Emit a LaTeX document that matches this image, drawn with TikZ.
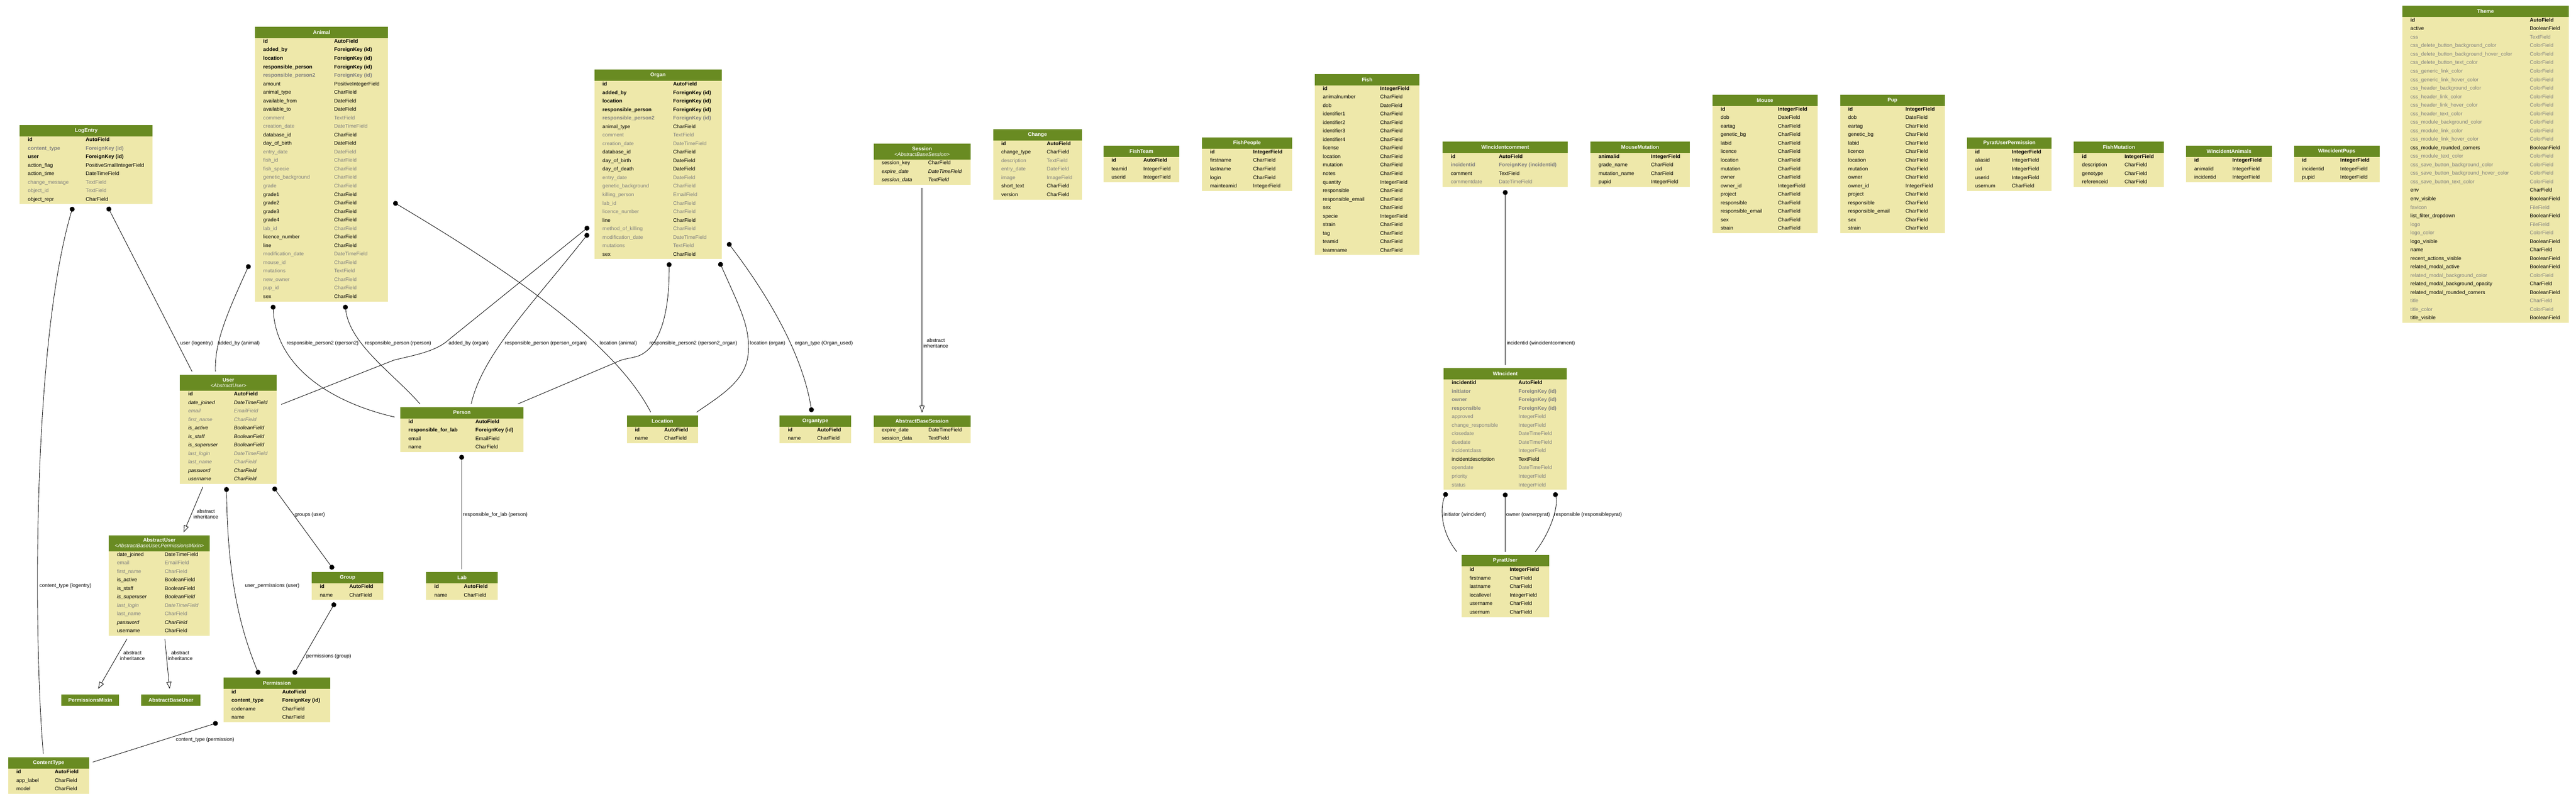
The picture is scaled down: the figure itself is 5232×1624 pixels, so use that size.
\documentclass[tikz,border=0pt]{standalone}
\usepackage{fontspec}
\setmainfont{Liberation Sans}
\usetikzlibrary{calc,arrows.meta}

\definecolor{hdrgreen}{HTML}{698B22}
\definecolor{bodyyellow}{HTML}{EEE8AA}
\definecolor{fieldgrey}{HTML}{7F7F7F}

\newcommand{\fieldfont}{\fontsize{10.5}{11.6}\selectfont}
\newcommand{\labelfont}{\fontsize{10.3}{11.6}\selectfont}
\pgfdeclarelayer{bodylayer}
\pgfsetlayers{bodylayer,main}

\tikzset{
  tblhead/.style={fill=hdrgreen, text=white, font=\fieldfont\bfseries, align=center, inner sep=0pt},
  tblbody/.style={fill=bodyyellow, inner sep=0pt},
  fieldtext/.style={anchor=base west, inner sep=0pt},
  fb/.style={font=\fieldfont\bfseries},
  fn/.style={font=\fieldfont},
  fg/.style={font=\fieldfont, text=fieldgrey},
  fgb/.style={font=\fieldfont\bfseries, text=fieldgrey},
  fi/.style={font=\fieldfont\itshape},
  fgi/.style={font=\fieldfont\itshape, text=fieldgrey},
  edgelabel/.style={anchor=base west, inner sep=0pt, font=\labelfont},
  inhlabel/.style={align=center, inner sep=0pt, font=\labelfont},
  fk/.style={line width=0.9pt, {Circle[length=10pt,width=10pt]}-},
  mm/.style={line width=0.9pt, {Circle[length=10pt,width=10pt]}-{Circle[length=10pt,width=10pt]}},
  inherit/.style={line width=0.9pt, -{Triangle[open,length=14pt,width=10pt]}},
}

% model table: name, left, top, width, type column, header height, title, fields
\newcommand{\modeltable}[8]{%
  \node[tblhead, minimum width=#4, minimum height=#6, anchor=north west] (#1-head) at (#2,#3) {#7};
  \foreach \fldname/\fldtype/\fldstyle [count=\i] in {#8}{%
    \node[fieldtext,\fldstyle] at ({#2+16.5},{#3+#6+10.3+17.3*(\i-1)}) {\fldname};
    \node[fieldtext,\fldstyle] at ({#2+#5},{#3+#6+10.3+17.3*(\i-1)}) {\fldtype};
    \xdef\lastrow{\i}
  }
  \begin{pgfonlayer}{bodylayer}
    \node[tblbody, minimum width=#4, minimum height={#6+17.3*\lastrow-0.8}, anchor=north west] (#1) at (#2,#3) {};
  \end{pgfonlayer}
}

\begin{document}
\catcode`\_=12
\begin{tikzpicture}[x=1pt,y=-1pt]
    \useasboundingbox (0,0) rectangle (5232,1624);

    % top row
    \modeltable{logentry}{40}{254}{270}{134}{23}{LogEntry}{id/AutoField/fb, content_type/ForeignKey (id)/fgb, user/ForeignKey (id)/fb, action_flag/PositiveSmallIntegerField/fn, action_time/DateTimeField/fn, change_message/TextField/fg, object_id/TextField/fg, object_repr/CharField/fn}
    \modeltable{animal}{518}{54}{270}{160.5}{23}{Animal}{id/AutoField/fb, added_by/ForeignKey (id)/fb, location/ForeignKey (id)/fb, responsible_person/ForeignKey (id)/fb, responsible_person2/ForeignKey (id)/fgb, amount/PositiveIntegerField/fn, animal_type/CharField/fn, available_from/DateField/fn, available_to/DateField/fn, comment/TextField/fg, creation_date/DateTimeField/fg, database_id/CharField/fn, day_of_birth/DateField/fn, entry_date/DateField/fg, fish_id/CharField/fg, fish_specie/CharField/fg, genetic_background/CharField/fg, grade/CharField/fg, grade1/CharField/fn, grade2/CharField/fn, grade3/CharField/fn, grade4/CharField/fn, lab_id/CharField/fg, licence_number/CharField/fn, line/CharField/fn, modification_date/DateTimeField/fg, mouse_id/CharField/fg, mutations/TextField/fg, new_owner/CharField/fg, pup_id/CharField/fg, sex/CharField/fn}
    \modeltable{organ}{1207}{141}{258.5}{160}{23}{Organ}{id/AutoField/fb, added_by/ForeignKey (id)/fb, location/ForeignKey (id)/fb, responsible_person/ForeignKey (id)/fb, responsible_person2/ForeignKey (id)/fgb, animal_type/CharField/fn, comment/TextField/fg, creation_date/DateTimeField/fg, database_id/CharField/fn, day_of_birth/DateField/fn, day_of_death/DateField/fn, entry_date/DateField/fg, genetic_background/CharField/fg, killing_person/EmailField/fg, lab_id/CharField/fg, licence_number/CharField/fg, line/CharField/fn, method_of_killing/CharField/fg, modification_date/DateTimeField/fg, mutations/TextField/fg, sex/CharField/fn}
    \modeltable{session}{1774}{292}{197}{111}{32}{Session\\{\mdseries\itshape <AbstractBaseSession>}}{session_key/CharField/fn, expire_date/DateTimeField/fi, session_data/TextField/fi}
    \modeltable{change}{2017}{262}{180}{109}{23}{Change}{id/AutoField/fb, change_type/CharField/fn, description/TextField/fg, entry_date/DateField/fg, image/ImageField/fg, short_text/CharField/fn, version/CharField/fn}
    \modeltable{fishteam}{2241}{296}{154}{81}{23}{FishTeam}{id/AutoField/fb, teamid/IntegerField/fn, userid/IntegerField/fn}
    \modeltable{fishpeople}{2441}{279}{183}{104}{23}{FishPeople}{id/IntegerField/fb, firstname/CharField/fn, lastname/CharField/fn, login/CharField/fn, mainteamid/IntegerField/fn}
    \modeltable{fish}{2670}{150}{213}{133}{23}{Fish}{id/IntegerField/fb, animalnumber/CharField/fn, dob/DateField/fn, identifier1/CharField/fn, identifier2/CharField/fn, identifier3/CharField/fn, identifier4/CharField/fn, license/CharField/fn, location/CharField/fn, mutation/CharField/fn, notes/CharField/fn, quantity/IntegerField/fn, responsible/CharField/fn, responsible_email/CharField/fn, sex/CharField/fn, specie/IntegerField/fn, strain/CharField/fn, tag/CharField/fn, teamid/CharField/fn, teamname/CharField/fn}
    \modeltable{wincomment}{2930}{288}{254}{114}{23}{WIncidentcomment}{id/AutoField/fb, incidentid/ForeignKey (incidentid)/fgb, comment/TextField/fn, commentdate/DateTimeField/fg}
    \modeltable{mousemutation}{3230}{288}{202}{123}{23}{MouseMutation}{animalid/IntegerField/fb, grade_name/CharField/fn, mutation_name/CharField/fn, pupid/IntegerField/fn}
    \modeltable{mouse}{3478}{192}{213}{133}{23}{Mouse}{id/IntegerField/fb, dob/DateField/fn, eartag/CharField/fn, genetic_bg/CharField/fn, labid/CharField/fn, licence/CharField/fn, location/CharField/fn, mutation/CharField/fn, owner/CharField/fn, owner_id/IntegerField/fn, project/CharField/fn, responsible/CharField/fn, responsible_email/CharField/fn, sex/CharField/fn, strain/CharField/fn}
    \modeltable{pup}{3737}{192}{213}{133}{23}{Pup}{id/IntegerField/fb, dob/DateField/fn, eartag/CharField/fn, genetic_bg/CharField/fn, labid/CharField/fn, licence/CharField/fn, location/CharField/fn, mutation/CharField/fn, owner/CharField/fn, owner_id/IntegerField/fn, project/CharField/fn, responsible/CharField/fn, responsible_email/CharField/fn, sex/CharField/fn, strain/CharField/fn}
    \modeltable{pyratperm}{3995}{279}{172}{91}{23}{PyratUserPermission}{id/IntegerField/fb, aliasid/IntegerField/fn, uid/IntegerField/fn, userid/IntegerField/fn, usernum/CharField/fn}
    \modeltable{fishmutation}{4212}{288}{183}{103}{23}{FishMutation}{id/IntegerField/fb, description/CharField/fn, genotype/CharField/fn, referenceid/CharField/fn}
    \modeltable{winanimals}{4440}{296}{174}{94}{23}{WIncidentAnimals}{id/IntegerField/fb, animalid/IntegerField/fn, incidentid/IntegerField/fn}
    \modeltable{winpups}{4659}{296}{174}{94}{23}{WIncidentPups}{id/IntegerField/fb, incidentid/IntegerField/fn, pupid/IntegerField/fn}
    \modeltable{theme}{4879}{11}{338}{259}{23}{Theme}{id/AutoField/fb, active/BooleanField/fn, css/TextField/fg, css_delete_button_background_color/ColorField/fg, css_delete_button_background_hover_color/ColorField/fg, css_delete_button_text_color/ColorField/fg, css_generic_link_color/ColorField/fg, css_generic_link_hover_color/ColorField/fg, css_header_background_color/ColorField/fg, css_header_link_color/ColorField/fg, css_header_link_hover_color/ColorField/fg, css_header_text_color/ColorField/fg, css_module_background_color/ColorField/fg, css_module_link_color/ColorField/fg, css_module_link_hover_color/ColorField/fg, css_module_rounded_corners/BooleanField/fn, css_module_text_color/ColorField/fg, css_save_button_background_color/ColorField/fg, css_save_button_background_hover_color/ColorField/fg, css_save_button_text_color/ColorField/fg, env/CharField/fn, env_visible/BooleanField/fn, favicon/FileField/fg, list_filter_dropdown/BooleanField/fn, logo/FileField/fg, logo_color/ColorField/fg, logo_visible/BooleanField/fn, name/CharField/fn, recent_actions_visible/BooleanField/fn, related_modal_active/BooleanField/fn, related_modal_background_color/ColorField/fg, related_modal_background_opacity/CharField/fn, related_modal_rounded_corners/BooleanField/fn, title/CharField/fg, title_color/ColorField/fg, title_visible/BooleanField/fn}

    % middle row
    \modeltable{user}{365.5}{762}{196.5}{109.5}{32}{User\\{\mdseries\itshape <AbstractUser>}}{id/AutoField/fb, date_joined/DateTimeField/fi, email/EmailField/fgi, first_name/CharField/fgi, is_active/BooleanField/fi, is_staff/BooleanField/fi, is_superuser/BooleanField/fi, last_login/DateTimeField/fgi, last_name/CharField/fgi, password/CharField/fi, username/CharField/fi}
    \modeltable{person}{813}{827}{250}{152.5}{23}{Person}{id/AutoField/fb, responsible_for_lab/ForeignKey (id)/fb, email/EmailField/fn, name/CharField/fn}
    \modeltable{location}{1273}{844}{144.5}{76}{23}{Location}{id/AutoField/fb, name/CharField/fn}
    \modeltable{organtype}{1583.5}{844}{144.5}{76}{23}{Organtype}{id/AutoField/fb, name/CharField/fn}
    \modeltable{absession}{1774}{844}{197}{111.5}{23}{AbstractBaseSession}{expire_date/DateTimeField/fn, session_data/TextField/fn}
    \modeltable{wincident}{2932}{748}{250}{152}{23}{WIncident}{incidentid/AutoField/fb, initiator/ForeignKey (id)/fgb, owner/ForeignKey (id)/fgb, responsible/ForeignKey (id)/fgb, approved/IntegerField/fg, change_responsible/IntegerField/fg, closedate/DateTimeField/fg, duedate/DateTimeField/fg, incidentclass/IntegerField/fg, incidentdescription/TextField/fn, opendate/DateTimeField/fg, priority/IntegerField/fg, status/IntegerField/fg}

    % lower rows
    \modeltable{pyratuser}{2968}{1128}{178}{98}{23}{PyratUser}{id/IntegerField/fb, firstname/CharField/fn, lastname/CharField/fn, locallevel/IntegerField/fn, username/CharField/fn, usernum/CharField/fn}
    \modeltable{abstractuser}{221}{1088}{205}{113.5}{32}{AbstractUser\\{\mdseries\itshape <AbstractBaseUser,PermissionsMixin>}}{date_joined/DateTimeField/fn, email/EmailField/fg, first_name/CharField/fg, is_active/BooleanField/fn, is_staff/BooleanField/fn, is_superuser/BooleanField/fi, last_login/DateTimeField/fgi, last_name/CharField/fg, password/CharField/fi, username/CharField/fn}
    \modeltable{group}{633}{1162.5}{145.5}{76.5}{23}{Group}{id/AutoField/fb, name/CharField/fn}
    \modeltable{lab}{865.5}{1162.5}{145.5}{76.5}{23}{Lab}{id/AutoField/fb, name/CharField/fn}
    \node[tblhead, minimum width=117.5, minimum height=23, anchor=north west] (permmixin) at (124.5,1411.5) {PermissionsMixin};
    \node[tblhead, minimum width=120, minimum height=23, anchor=north west] (abbaseuser) at (287,1411.5) {AbstractBaseUser};
    \modeltable{permission}{453.5}{1376.5}{217.5}{119.5}{23}{Permission}{id/AutoField/fb, content_type/ForeignKey (id)/fb, codename/CharField/fn, name/CharField/fn}
    \modeltable{contenttype}{16.6}{1539}{164}{94.4}{23}{ContentType}{id/AutoField/fb, app_label/CharField/fn, model/CharField/fn}

    % foreign keys
    \draw[fk] ($(logentry.south west)+(108,5.4)$) .. controls (65,700) and (68,1300) .. ($(contenttype.north west)+(71.4,-7)$);
    \draw[fk] ($(logentry.south west)+(178.8,5.4)$) -- ($(user.north west)+(24.5,-7)$);
    \draw[fk] ($(animal.north west)+(-11.5,483.4)$) .. controls (455,650) and (436,700) .. ($(user.north west)+(72,-7)$);
    \draw[fk] ($(animal.south west)+(36.5,6.5)$) .. controls (560,750) and (680,820) .. ($(person.north west)+(-11.3,20.7)$);
    \draw[fk] ($(animal.south west)+(183,6.5)$) .. controls (710,700) and (800,760) .. ($(person.north west)+(40,-6)$);
    \draw[fk] ($(animal.north east)+(10.6,356.8)$) .. controls (1050,560) and (1250,700) .. ($(location.north west)+(48.6,-6.3)$);
    \draw[fk] ($(organ.north west)+(-11,319.6)$) -- (912,690) .. controls (885,715) and (840,722) .. (800,732) -- ($(user.north east)+(9,60)$);
    \draw[fk] ($(organ.north west)+(-12,333.4)$) .. controls (1080,620) and (980,720) .. ($(person.north west)+(144,-6)$);
    \draw[fk] ($(organ.south west)+(152,6)$) .. controls (1360,660) and (1330,712) .. (1295,724) .. controls (1275,730) and (1268,728) .. (1250,737) -- ($(person.north west)+(239,-6)$);
    \draw[fk] ($(organ.south west)+(254.5,6)$) .. controls (1500,620) and (1522,660) .. (1520,710) .. controls (1520,770) and (1470,800) .. ($(location.north west)+(142,-6.3)$);
    \draw[fk] ($(permission.south west)+(-11.2,0.5)$) -- ($(contenttype.north east)+(7.4,10)$);
    \draw[fk] ($(person.south west)+(124.6,5.6)$) -- ($(lab.north west)+(72,-5.5)$);
    \draw[fk] ($(wincomment.south)+(0,6.5)$) -- ($(wincident.north)+(0,-6)$);
    \draw[fk] ($(wincident.south west)+(6,5)$) .. controls (2925,1030) and (2925,1080) .. ($(pyratuser.north west)+(-9,-6.6)$);
    \draw[fk] ($(wincident.south)+(0,5.5)$) -- ($(pyratuser.north)+(0,-6.6)$);
    \draw[fk] ($(wincident.south west)+(226,5)$) .. controls (3165,1030) and (3150,1080) .. ($(pyratuser.north west)+(150.3,-6.6)$);

    % many to many
    \draw[mm] ($(organ.north east)+(12.2,351.8)$) .. controls (1560,600) and (1630,720) .. ($(organtype.north west)+(65.3,-6.3)$);
    \draw[mm] ($(user.south west)+(189.5,6)$) -- ($(group.north west)+(44,-5.5)$);
    \draw[mm] ($(user.south west)+(94.5,6)$) .. controls (462,1150) and (480,1260) .. ($(permission.north west)+(72.5,-5.5)$);
    \draw[mm] ($(group.south west)+(47.5,5.2)$) -- ($(permission.north west)+(142.8,-5.5)$);

    % inheritance
    \draw[inherit] ($(session.south)+(0,6.5)$) -- ($(absession.north)+(0,-5.3)$);
    \draw[inherit] ($(user.south west)+(46.5,6)$) -- ($(abstractuser.north west)+(152,-6)$);
    \draw[inherit] ($(abstractuser.south west)+(36.7,6.3)$) -- ($(permmixin.north west)+(75,-11.5)$);
    \draw[inherit] ($(abstractuser.south west)+(113.8,6.3)$) -- ($(abbaseuser.north west)+(57.4,-11.5)$);

    % edge labels
    \node[edgelabel] (l-ctlog) at (80,1193.3) {content_type (logentry)};
    \node[edgelabel] (l-userlog) at (366,700.8) {user (logentry)};
    \node[edgelabel] (l-addanimal) at (442,700.8) {added_by (animal)};
    \node[edgelabel] (l-rp2animal) at (582,700.8) {responsible_person2 (rperson2)};
    \node[edgelabel] (l-rpanimal) at (741,700.8) {responsible_person (rperson)};
    \node[edgelabel] (l-addorgan) at (911,700.8) {added_by (organ)};
    \node[edgelabel] (l-rporgan) at (1025,700.8) {responsible_person (rperson_organ)};
    \node[edgelabel] (l-locanimal) at (1218,700.8) {location (animal)};
    \node[edgelabel] (l-rp2organ) at (1319,700.8) {responsible_person2 (rperson2_organ)};
    \node[edgelabel] (l-locorgan) at (1523,700.8) {location (organ)};
    \node[edgelabel] (l-organtype) at (1614,700.8) {organ_type (Organ_used)};
    \node[inhlabel] (l-inhsession) at (1900.6,697.5) {abstract\\inheritance};
    \node[edgelabel] (l-wincomment) at (3060,700.8) {incidentid (wincidentcomment)};
    \node[inhlabel] (l-inhuser) at (418,1045) {abstract\\inheritance};
    \node[edgelabel] (l-groups) at (598.5,1049.5) {groups (user)};
    \node[edgelabel] (l-lab) at (940,1049.5) {responsible_for_lab (person)};
    \node[edgelabel] (l-initiator) at (2932,1048.8) {initiator (wincident)};
    \node[edgelabel] (l-owner) at (3059,1048.8) {owner (ownerpyrat)};
    \node[edgelabel] (l-responsible) at (3156,1048.8) {responsible (responsiblepyrat)};
    \node[edgelabel] (l-userperms) at (497.4,1193.3) {user_permissions (user)};
    \node[inhlabel] (l-inhmixin) at (269,1333) {abstract\\inheritance};
    \node[inhlabel] (l-inhbase) at (366,1333) {abstract\\inheritance};
    \node[edgelabel] (l-groupperms) at (622,1337.2) {permissions (group)};
    \node[edgelabel] (l-ctperm) at (357,1506.3) {content_type (permission)};
\end{tikzpicture}
\end{document}
